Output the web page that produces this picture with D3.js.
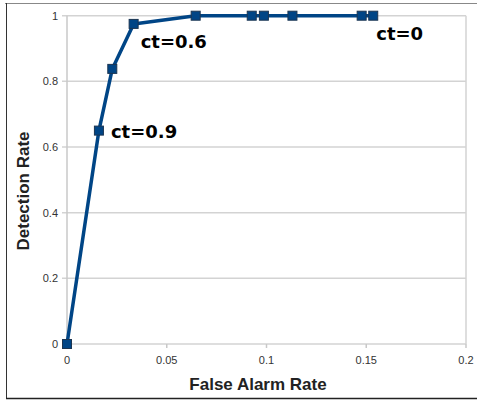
<!DOCTYPE html>
<html>
<head>
<meta charset="utf-8">
<style>
    body { margin: 0; background: #fff; }
    svg { display: block; }
    .tick-label { font-family: "Liberation Sans", Arial, sans-serif; font-size: 11px; fill: #333; }
    .axis-title { font-family: "Liberation Sans", Arial, sans-serif; font-size: 17px; font-weight: bold; fill: #222; }
    .ct-label { font-family: "DejaVu Sans", sans-serif; font-size: 18px; font-weight: bold; fill: #000; }
</style>
</head>
<body>
<svg width="477" height="403"></svg>
<script src="https://cdnjs.cloudflare.com/ajax/libs/d3/7.8.5/d3.min.js"></script>
<script>
    // data
    let falseAlarm = [0, 0.016, 0.0227, 0.0334, 0.0645, 0.0926, 0.0987, 0.113, 0.1477, 0.1535];
    let detection  = [0, 0.65, 0.838, 0.975, 1, 1, 1, 1, 1, 1];
    let xTicks = [0, 0.05, 0.1, 0.15, 0.2];
    let xTickLabels = ["0", "0.05", "0.1", "0.15", "0.2"];
    let yTicks = [0, 0.2, 0.4, 0.6, 0.8, 1];
    let yTickLabels = ["0", "0.2", "0.4", "0.6", "0.8", "1"];
    let ctLabels = ["ct=0.9", "ct=0.6", "ct=0"];
    let ctIndex = [1, 3, 9];

    let points = falseAlarm.map((d, i) => ({ fa: d, dr: detection[i] }));

    let svg = d3.select("svg");

    let x = d3.scaleLinear().domain([0, 0.2]).range([67, 466]);
    let y = d3.scaleLinear().domain([0, 1]).range([344, 15.7]);

    // outer frame
    svg.append("line").attr("x1", 5).attr("x2", 477).attr("y1", 3.5).attr("y2", 3.5)
        .attr("stroke", "#888").attr("stroke-width", 1);
    svg.append("line").attr("x1", 6.5).attr("x2", 6.5).attr("y1", 3).attr("y2", 398.5)
        .attr("stroke", "#333").attr("stroke-width", 1);
    svg.append("line").attr("x1", 6).attr("x2", 477).attr("y1", 398.5).attr("y2", 398.5)
        .attr("stroke", "#222").attr("stroke-width", 1.5);

    // horizontal grid
    svg.append("g")
        .selectAll("line")
        .data(yTicks)
        .join("line")
        .attr("x1", x(0) - 5)
        .attr("x2", x(0.2))
        .attr("y1", d => y(d))
        .attr("y2", d => y(d))
        .attr("stroke", "#d3d3d3")
        .attr("stroke-width", 1.5);

    // left and right edges
    svg.append("line").attr("x1", x(0)).attr("x2", x(0)).attr("y1", y(1)).attr("y2", y(0))
        .attr("stroke", "#c8c8c8").attr("stroke-width", 1.5);
    svg.append("line").attr("x1", x(0.2)).attr("x2", x(0.2)).attr("y1", y(1)).attr("y2", y(0))
        .attr("stroke", "#d3d3d3").attr("stroke-width", 1.5);

    // x ticks
    svg.append("g")
        .selectAll("line")
        .data(xTicks)
        .join("line")
        .attr("x1", d => x(d))
        .attr("x2", d => x(d))
        .attr("y1", y(0))
        .attr("y2", y(0) + 4)
        .attr("stroke", "#c8c8c8")
        .attr("stroke-width", 1.5);

    svg.append("g")
        .selectAll("text")
        .data(xTicks)
        .join("text")
        .attr("class", "tick-label")
        .attr("x", d => x(d))
        .attr("y", 364)
        .attr("text-anchor", "middle")
        .text((d, i) => xTickLabels[i]);

    svg.append("g")
        .selectAll("text")
        .data(yTicks)
        .join("text")
        .attr("class", "tick-label")
        .attr("x", 58)
        .attr("y", d => y(d) + 4)
        .attr("text-anchor", "end")
        .text((d, i) => yTickLabels[i]);

    // axis titles
    svg.append("text")
        .attr("class", "axis-title")
        .attr("x", 258)
        .attr("y", 390)
        .attr("text-anchor", "middle")
        .text("False Alarm Rate");

    svg.append("text")
        .attr("class", "axis-title")
        .attr("transform", "translate(28.5, 191) rotate(-90)")
        .attr("text-anchor", "middle")
        .text("Detection Rate");

    // curve
    let line = d3.line()
        .x(d => x(d.fa))
        .y(d => y(d.dr));

    svg.append("path")
        .datum(points)
        .attr("d", line)
        .attr("fill", "none")
        .attr("stroke", "#004586")
        .attr("stroke-width", 3.5)
        .attr("stroke-linejoin", "round");

    svg.append("g")
        .selectAll("rect")
        .data(points)
        .join("rect")
        .attr("x", d => x(d.fa) - 4.5)
        .attr("y", d => y(d.dr) - 4.5)
        .attr("width", 9)
        .attr("height", 9)
        .attr("fill", "#004586")
        .attr("stroke", "#1b3552")
        .attr("stroke-width", 1);

    // threshold labels
    let offsets = [[12, 7], [7, 24], [3, 24]];
    svg.append("g")
        .selectAll("text")
        .data(ctLabels)
        .join("text")
        .attr("class", "ct-label")
        .attr("x", (d, i) => x(points[ctIndex[i]].fa) + offsets[i][0])
        .attr("y", (d, i) => y(points[ctIndex[i]].dr) + offsets[i][1])
        .text(d => d);
</script>
</body>
</html>
